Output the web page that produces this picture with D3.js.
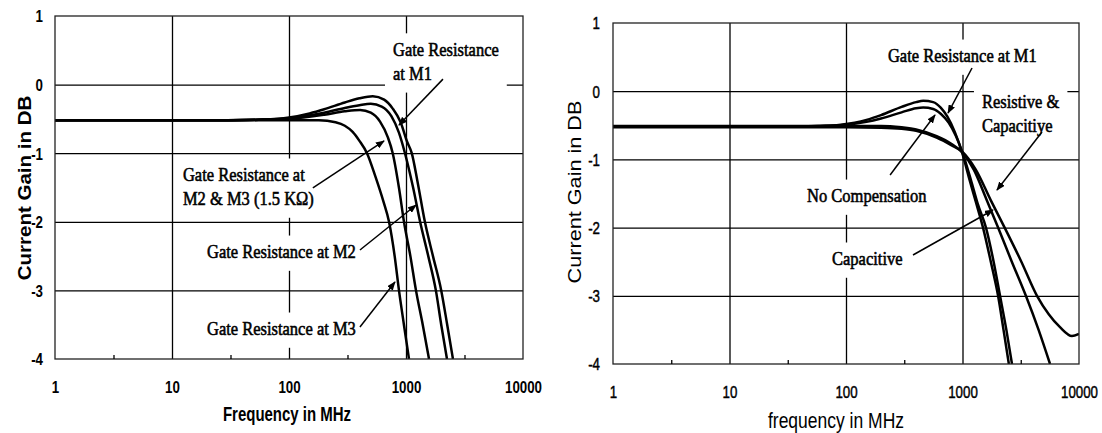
<!DOCTYPE html>
<html>
<head>
<meta charset="utf-8">
<script src="https://cdn.jsdelivr.net/npm/d3@7"></script>
<style>
  html, body { margin: 0; padding: 0; background: #fff; }
  svg { display: block; }
</style>
</head>
<body>
<svg id="chart" width="1102" height="433"></svg>
<script>
const freqTicks = [1, 10, 100, 1000, 10000]
const gainTicks = [1, 0, -1, -2, -3, -4]
const gridFreqs = [10, 100, 1000]
const gridGains = [0, -1, -2, -3]
const minorFreqs = [3.162, 31.62, 316.2, 3162]

// left chart: [frequency MHz, gain dB]
const leftM1 = [[1, -0.52], [30, -0.52], [60, -0.51], [100, -0.48], [150, -0.42], [200, -0.36], [300, -0.26], [400, -0.2], [520, -0.17], [650, -0.22], [770, -0.35], [900, -0.55], [1020, -0.83], [1120, -1.0], [1250, -1.4], [1450, -2.0], [1700, -2.5], [2000, -3.0], [2250, -3.5], [2520, -4.0]]
const leftM2 = [[1, -0.52], [30, -0.52], [60, -0.51], [100, -0.49], [200, -0.41], [300, -0.34], [400, -0.3], [500, -0.28], [620, -0.32], [750, -0.46], [870, -0.7], [980, -1.0], [1150, -1.5], [1320, -2.0], [1550, -2.5], [1800, -3.0], [2000, -3.5], [2240, -4.0]]
const leftM2M3 = [[1, -0.52], [30, -0.52], [60, -0.51], [100, -0.5], [200, -0.44], [300, -0.39], [405, -0.37], [500, -0.41], [600, -0.54], [700, -0.77], [770, -1.0], [870, -1.5], [961, -2.0], [1090, -2.5], [1217, -3.0], [1390, -3.5], [1573, -4.0]]
const leftM3 = [[1, -0.52], [100, -0.52], [180, -0.52], [250, -0.55], [300, -0.6], [350, -0.69], [400, -0.82], [464, -1.0], [550, -1.35], [640, -1.7], [716, -2.0], [800, -2.5], [871, -3.0], [960, -3.5], [1061, -4.0]]

// right chart
const rightM1 = [[1, -0.52], [30, -0.52], [60, -0.51], [90, -0.49], [150, -0.42], [200, -0.35], [300, -0.23], [400, -0.16], [460, -0.14], [560, -0.16], [650, -0.24], [740, -0.37], [860, -0.6], [1000, -0.92], [1150, -1.3], [1300, -1.62], [1500, -2.0], [1750, -2.5], [2020, -3.0], [2250, -3.5], [2500, -4.0]]
const rightNoComp = [[1, -0.52], [30, -0.52], [60, -0.51], [90, -0.5], [150, -0.45], [200, -0.4], [300, -0.31], [400, -0.25], [460, -0.24], [560, -0.26], [650, -0.33], [760, -0.46], [880, -0.66], [1000, -0.9], [1180, -1.3], [1350, -1.65], [1590, -2.0], [1850, -2.5], [2100, -3.0], [2380, -3.5], [2660, -4.0]]
const rightCap = [[1, -0.51], [100, -0.51], [200, -0.51], [300, -0.53], [400, -0.56], [600, -0.66], [800, -0.77], [1000, -0.9], [1250, -1.15], [1600, -1.58], [2020, -2.0], [2650, -2.5], [3500, -3.0], [4500, -3.5], [5640, -4.0]]
const rightResCap = [[1, -0.53], [100, -0.53], [200, -0.535], [300, -0.55], [400, -0.58], [600, -0.68], [800, -0.79], [1000, -0.89], [1300, -1.15], [1750, -1.6], [2300, -2.0], [3200, -2.5], [4360, -3.0], [5500, -3.27], [6870, -3.46], [8700, -3.59], [10000, -3.56]]

// annotations, anchored in data units
const leftNotes = [
  { lines: ['Gate Resistance', 'at M1'], at: [774, 0.42], arrow: [[2070, 0.08], [871, -0.59]] },
  { lines: ['Gate Resistance at', 'M2 & M3 (1.5 KΩ)'], at: [12.4, -1.405], arrow: [[160, -1.507], [649, -0.822]] },
  { lines: ['Gate Resistance at M2'], at: [19.9, -2.528], arrow: [[404, -2.411], [1218, -1.755]] },
  { lines: ['Gate Resistance at M3'], at: [19.9, -3.65], arrow: [[404, -3.534], [805, -2.878]] },
]
const rightNotes = [
  { lines: ['Gate Resistance at M1'], at: [229, 0.428], arrow: [[1207, 0.34], [751, -0.32]] },
  { lines: ['Resistive &', 'Capacitiye'], at: [1469, -0.246], arrow: [[4810, -0.598], [1977, -1.449]] },
  { lines: ['No Compensation'], at: [46.3, -1.625], arrow: [[239, -1.229], [581, -0.349]] },
  { lines: ['Capacitive'], at: [75.9, -2.548], arrow: [[376, -2.402], [1828, -1.742]] },
]

const svg = d3.select('#chart')
const defs = svg.append('defs')
defs.append('marker')
  .attr('id', 'arrowhead')
  .attr('viewBox', '0 0 10 10')
  .attr('refX', 9).attr('refY', 5)
  .attr('markerWidth', 9).attr('markerHeight', 7)
  .attr('markerUnits', 'userSpaceOnUse')
  .attr('preserveAspectRatio', 'none')
  .attr('orient', 'auto')
  .append('path').attr('d', 'M0,0L10,5L0,10z').attr('fill', '#000')

const NOTE_FONT = 16.5
const NOTE_STRETCH = 1.2
const NOTE_GAP = 24

function drawPanel(cfg) {
  const [left, right] = cfg.xRange
  const [top, bottom] = cfg.yRange
  const w = right - left
  const h = bottom - top
  const x = d3.scaleLog().domain([1, 10000]).range(cfg.xRange)
  const y = d3.scaleLinear().domain([1, -4]).range(cfg.yRange)

  const g = svg.append('g')
  const gridG = g.append('g')
  const boxG = g.append('g')
  const curveG = g.append('g')
  const frameG = g.append('g')
  const arrowG = g.append('g')
  const textG = g.append('g')

  defs.append('clipPath').attr('id', cfg.id + '-clip')
    .append('rect').attr('x', left).attr('y', top).attr('width', w).attr('height', h)

  // gridlines
  gridG.append('g')
    .attr('transform', `translate(0,${bottom})`)
    .call(d3.axisBottom(x).tickValues(gridFreqs).tickSize(-h).tickFormat(''))
    .call((a) => a.select('.domain').remove())
    .selectAll('line').attr('stroke', '#000').attr('stroke-width', 1.3)
  gridG.append('g')
    .attr('transform', `translate(${left},0)`)
    .call(d3.axisLeft(y).tickValues(gridGains).tickSize(-w).tickFormat(''))
    .call((a) => a.select('.domain').remove())
    .selectAll('line').attr('stroke', '#000').attr('stroke-width', 1.3)

  // notes: text first so the white boxes can be sized from it
  cfg.notes.forEach((n) => {
    const nx = x(n.at[0])
    const ny = y(n.at[1])
    const t = textG.append('g').attr('transform', `translate(${nx},${ny}) scale(1,${NOTE_STRETCH})`)
    let maxW = 0
    n.lines.forEach((line, i) => {
      const te = t.append('text')
        .attr('x', 0)
        .attr('y', (i * NOTE_GAP) / NOTE_STRETCH)
        .attr('font-family', '"Liberation Serif", "Times New Roman", serif')
        .attr('font-size', NOTE_FONT)
        .attr('fill', '#000')
        .attr('stroke', '#000')
        .attr('stroke-width', 0.5)
        .text(line)
      maxW = Math.max(maxW, te.node().getComputedTextLength())
    })
    const capH = NOTE_FONT * 0.68 * NOTE_STRETCH
    boxG.append('rect')
      .attr('x', nx - 8)
      .attr('y', ny - capH - 9)
      .attr('width', maxW + 16)
      .attr('height', capH + 9 + (n.lines.length - 1) * NOTE_GAP + 4 * NOTE_STRETCH + 8)
      .attr('fill', '#fff')

    const [[ax0, ay0], [ax1, ay1]] = n.arrow
    arrowG.append('line')
      .attr('x1', x(ax0)).attr('y1', y(ay0))
      .attr('x2', x(ax1)).attr('y2', y(ay1))
      .attr('stroke', '#000')
      .attr('stroke-width', 1.5)
      .attr('marker-end', 'url(#arrowhead)')
  })

  // curves
  const line = d3.line()
    .x((d) => x(d[0]))
    .y((d) => y(d[1]))
    .curve(d3.curveMonotoneX)
  curveG.attr('clip-path', `url(#${cfg.id}-clip)`)
    .selectAll('path')
    .data(cfg.series)
    .join('path')
    .attr('d', (d) => line(d))
    .attr('fill', 'none')
    .attr('stroke', '#000')
    .attr('stroke-width', 2.5)
    .attr('stroke-linejoin', 'round')

  // frame
  frameG.append('rect')
    .attr('x', left).attr('y', top).attr('width', w).attr('height', h)
    .attr('fill', 'none').attr('stroke', '#222').attr('stroke-width', 1.3)

  // minor ticks on the bottom edge
  frameG.append('g')
    .attr('transform', `translate(0,${bottom})`)
    .call(d3.axisBottom(x).tickValues(minorFreqs).tickSize(-4).tickFormat(''))
    .call((a) => a.select('.domain').remove())
    .selectAll('line').attr('stroke', '#000').attr('stroke-width', 1.3)

  const tickFont = (sel) => sel
    .attr('font-family', '"Liberation Sans", Arial, sans-serif')
    .attr('font-size', 13.3)
    .attr('font-weight', cfg.tickWeight)
    .attr('fill', '#000')
    .attr('stroke', '#000')
    .attr('stroke-width', cfg.tickStroke)

  // x tick labels
  const xAx = g.append('g')
    .attr('transform', `translate(0,${bottom})`)
    .call(d3.axisBottom(x).tickValues(freqTicks).tickSize(0).tickFormat((d) => String(d)))
  xAx.select('.domain').remove()
  xAx.selectAll('text')
    .attr('y', null).attr('dy', null)
    .attr('transform', `translate(0,${cfg.xTickOffset}) scale(1,1.27)`)
    .call(tickFont)

  // y tick labels
  const yAx = g.append('g')
    .attr('transform', `translate(${left},0)`)
    .call(d3.axisLeft(y).tickValues(gainTicks).tickSize(0).tickPadding(cfg.yTickPad).tickFormat((d) => String(d)))
  yAx.select('.domain').remove()
  yAx.selectAll('text')
    .attr('dy', null)
    .attr('transform', 'scale(1,1.27)')
    .attr('y', 4.6)
    .call(tickFont)

  // axis titles
  svg.append('text')
    .attr('transform', `translate(${cfg.xTitle.x},${cfg.xTitle.y}) scale(1,1.3)`)
    .attr('text-anchor', 'middle')
    .attr('font-family', '"Liberation Sans", Arial, sans-serif')
    .attr('font-size', cfg.xTitle.size)
    .attr('font-weight', cfg.titleWeight)
    .attr('fill', '#000')
    .text(cfg.xTitle.text)

  svg.append('text')
    .attr('transform', `translate(${cfg.yTitle.x},${cfg.yTitle.y}) rotate(-90) scale(1.14,1)`)
    .attr('text-anchor', 'middle')
    .attr('font-family', '"Liberation Sans", Arial, sans-serif')
    .attr('font-size', cfg.yTitle.size)
    .attr('font-weight', cfg.titleWeight)
    .attr('fill', '#000')
    .text(cfg.yTitle.text)
}

drawPanel({
  id: 'left',
  xRange: [55, 523],
  yRange: [16, 359],
  series: [leftM1, leftM2, leftM2M3, leftM3],
  notes: leftNotes,
  tickWeight: 'bold',
  tickStroke: 0,
  titleWeight: 'bold',
  xTickOffset: 34,
  yTickPad: 12,
  xTitle: { text: 'Frequency in MHz', x: 287, y: 421, size: 15 },
  yTitle: { text: 'Current Gain in DB', x: 31, y: 188, size: 18 },
})

drawPanel({
  id: 'right',
  xRange: [613, 1079],
  yRange: [23, 364],
  series: [rightM1, rightNoComp, rightCap, rightResCap],
  notes: rightNotes,
  tickWeight: 'normal',
  tickStroke: 0.35,
  titleWeight: 'normal',
  xTickOffset: 34,
  yTickPad: 13,
  xTitle: { text: 'frequency in MHz', x: 836, y: 428, size: 17.5 },
  yTitle: { text: 'Current Gain in DB', x: 581, y: 192, size: 19 },
})
</script>
</body>
</html>
